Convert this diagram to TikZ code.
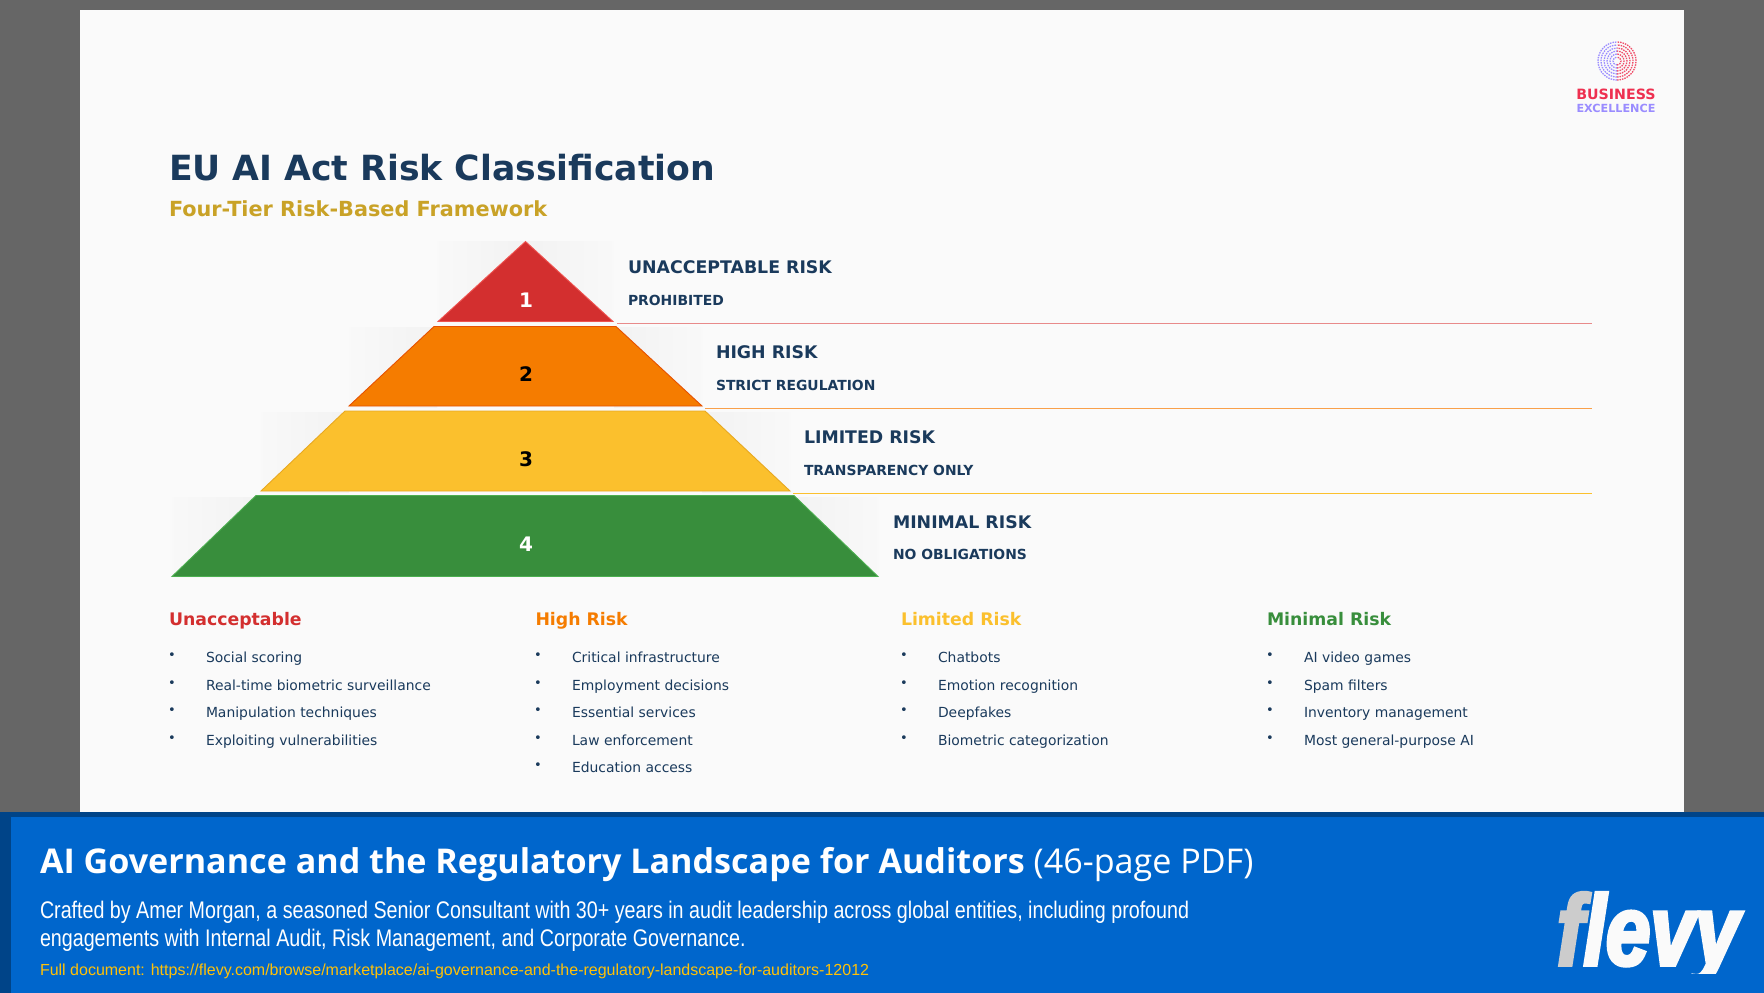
\documentclass[tikz,border=0pt]{standalone}
\usepackage{fontspec}
\setmainfont{DejaVu Sans}
\newfontfamily\bannerfont{Open Sans}
\newfontfamily\descfont[FakeStretch=0.82]{Liberation Sans}
\newfontfamily\linkfont{Liberation Sans}
\newfontfamily\logofont[FakeStretch=0.8,FakeBold=3.5]{Liberation Sans}
\definecolor{navytext}{HTML}{1A3A5C}
\definecolor{goldtext}{HTML}{C9A227}
\definecolor{slidebg}{HTML}{FAFAFA}
\definecolor{redtier}{HTML}{D32F2F}
\definecolor{orangetier}{HTML}{F57C00}
\definecolor{yellowtier}{HTML}{FBC02D}
\definecolor{greentier}{HTML}{388E3C}
\definecolor{rededge}{HTML}{EF5350}
\definecolor{orangeedge}{HTML}{E65100}
\definecolor{yellowedge}{HTML}{E8A820}
\definecolor{greenedge}{HTML}{4CAF50}
\definecolor{redrule}{HTML}{E88A8A}
\definecolor{orangerule}{HTML}{F9A04A}
\definecolor{bannerblue}{HTML}{0066CC}
\definecolor{bannerdark}{HTML}{004488}
\definecolor{linkyellow}{HTML}{FFC107}
\definecolor{logored}{HTML}{EE3050}
\definecolor{logoblue}{HTML}{9A8CFF}
\newcommand{\fsz}[1]{\fontsize{#1}{#1}\selectfont}

\tikzset{%
  % Specifications for style of nodes:
         base/.style = {anchor=base west, inner sep=0pt, outer sep=0pt},
    tiertitle/.style = {base, text=navytext, font=\fsz{17.35}\bfseries},
      tiersub/.style = {base, text=navytext, font=\fsz{13.9}\bfseries},
      tiernum/.style = {inner sep=0pt, font=\fsz{20}\bfseries},
      colhead/.style = {base, font=\fsz{17.3}\bfseries},
     itemtext/.style = {base, text=navytext, font=\fsz{13.9}},
   bulletmark/.style = {base, text=navytext, font=\fsz{13}},
       banner/.style = {base, text=white},
}

\begin{document}
\begin{tikzpicture}[x=1pt, y=-1pt]
    \useasboundingbox (0,0) rectangle (1764,993);
    % Draw background
    \fill[black!60] (0,0) rectangle (1764,993);
    \fill[slidebg] (80,10) rectangle (1684,812);
    \fill[bannerdark] (0,812) rectangle (1764,993);
    \fill[bannerblue] (11,817) rectangle (1764,993);

    % Draw titles
    \node (title)    [base, text=navytext, font=\fsz{34.65}\bfseries] at (169,180) {EU AI Act Risk Classification};
    \node (subtitle) [base, text=goldtext, font=\fsz{20.8}\bfseries] at (169,216) {Four-Tier Risk-Based Framework};

    % Draw pyramid
    \foreach \xa/\xb/\ya/\yb in {437/613/241/322, 349/702/327/407, 261/790/412/492, 172/878/497/577} {
      \shade[left color=black!2.5, right color=black!5] (\xa,\ya) rectangle (\xa+88,\yb);
      \shade[left color=black!5, right color=black!2.5] (\xb-88,\ya) rectangle (\xb,\yb);
    }
    \filldraw[fill=redtier, draw=rededge, line width=0.9pt] (525.5,241.5) -- (613,321.5) -- (438,321.5) -- cycle;
    \filldraw[fill=orangetier, draw=orangeedge, line width=0.9pt] (434,326.5) -- (616,326.5) -- (702,406) -- (349,406) -- cycle;
    \filldraw[fill=yellowtier, draw=yellowedge, line width=0.9pt] (345,411) -- (705,411) -- (790,491) -- (261,491) -- cycle;
    \filldraw[fill=greentier, draw=greenedge, line width=0.9pt] (256,495.5) -- (794,495.5) -- (878,576.5) -- (172,576.5) -- cycle;

    \node (num1) [tiernum, text=white] at (526,300) {1};
    \node (num2) [tiernum, text=black] at (526,374) {2};
    \node (num3) [tiernum, text=black] at (526,459) {3};
    \node (num4) [tiernum, text=white] at (526,544) {4};

    % Draw tier labels
    \node (unacc)    [tiertitle] at (628,273) {UNACCEPTABLE RISK};
    \node (unaccsub) [tiersub]   at (628,305) {PROHIBITED};
    \node (high)     [tiertitle] at (716,358) {HIGH RISK};
    \node (highsub)  [tiersub]   at (716,390) {STRICT REGULATION};
    \node (limit)    [tiertitle] at (804,443) {LIMITED RISK};
    \node (limitsub) [tiersub]   at (804,475) {TRANSPARENCY ONLY};
    \node (minim)    [tiertitle] at (893,528) {MINIMAL RISK};
    \node (minimsub) [tiersub]   at (893,559) {NO OBLIGATIONS};

    % Draw rules
    \coordinate (rulea) at (617,323.8);
    \coordinate (ruleb) at (705,408.5);
    \coordinate (rulec) at (793,493.5);
    \coordinate (ruleaend) at (1592,323.8);
    \coordinate (rulebend) at (1592,408.5);
    \coordinate (rulecend) at (1592,493.5);
    \draw[redrule, line width=1.3pt]    (rulea) -- (ruleaend);
    \draw[orangerule, line width=1.3pt] (ruleb) -- (rulebend);
    \draw[yellowtier, line width=1.3pt] (rulec) -- (rulecend);

    % Draw columns
    \node (headun) [colhead, text=redtier]    at (169,625)  {Unacceptable};
    \node (headhi) [colhead, text=orangetier] at (535.5,625) {High Risk};
    \node (headli) [colhead, text=yellowtier] at (901,625)  {Limited Risk};
    \node (headmi) [colhead, text=greentier]  at (1267,625) {Minimal Risk};

    \foreach \colx/\items in {%
        169/{Social scoring,Real-time biometric surveillance,Manipulation techniques,Exploiting vulnerabilities},%
        535/{Critical infrastructure,Employment decisions,Essential services,Law enforcement,Education access},%
        901/{Chatbots,Emotion recognition,Deepfakes,Biometric categorization},%
        1267/{AI video games,Spam filters,Inventory management,Most general-purpose AI}}
      \foreach \txt [count=\n] in \items {
        \node (mark\colx-\n) [bulletmark] at (\colx-1,659.5+27.6*\n-27.6) {•};
        \node (item\colx-\n) [itemtext]   at (\colx+37,662.5+27.6*\n-27.6) {\txt};
      }

    % Draw logo
    \foreach \r in {4,7,...,19} {
      \draw[logoblue, line width=1.3pt, dash pattern=on 1.5pt off 1pt] (1617,61+\r) arc[start angle=90, end angle=270, x radius=\r, y radius=\r];
      \draw[logored!85, line width=1.3pt, dash pattern=on 1.5pt off 1pt] (1617,61+\r) arc[start angle=90, end angle=-90, x radius=\r, y radius=\r];
    }
    \node (logoa) [anchor=base, inner sep=0pt, text=logored,  font=\fsz{14.2}\bfseries] at (1616,99)  {BUSINESS};
    \node (logob) [anchor=base, inner sep=0pt, text=logoblue, font=\fsz{11.2}\bfseries] at (1616,112) {EXCELLENCE};

    % Draw banner
    \node (bantitle) [banner, font=\bannerfont\fsz{34.1}] at (40,873) {\textbf{AI Governance and the Regulatory Landscape for Auditors} (46-page PDF)};
    \node (bandesca) [banner, font=\descfont\fsz{24}] at (40,918) {Crafted by Amer Morgan, a seasoned Senior Consultant with 30+ years in audit leadership across global entities, including profound};
    \node (bandescb) [banner, font=\descfont\fsz{24}] at (40,946) {engagements with Internal Audit, Risk Management, and Corporate Governance.};
    \node (banlink)  [base, text=linkyellow, font=\linkfont\fsz{16}] at (40,975) {Full document: https://flevy.com/browse/marketplace/ai-governance-and-the-regulatory-landscape-for-auditors-12012};
    \begin{scope}
      \clip (1550,880) rectangle (1750,973);
      \node (flevy)  [base, font=\logofont\bfseries\itshape\fsz{100}] at (1557,965) {\textcolor{black!20}{f}\textcolor{slidebg}{levy}};
    \end{scope}
\end{tikzpicture}
\end{document}
